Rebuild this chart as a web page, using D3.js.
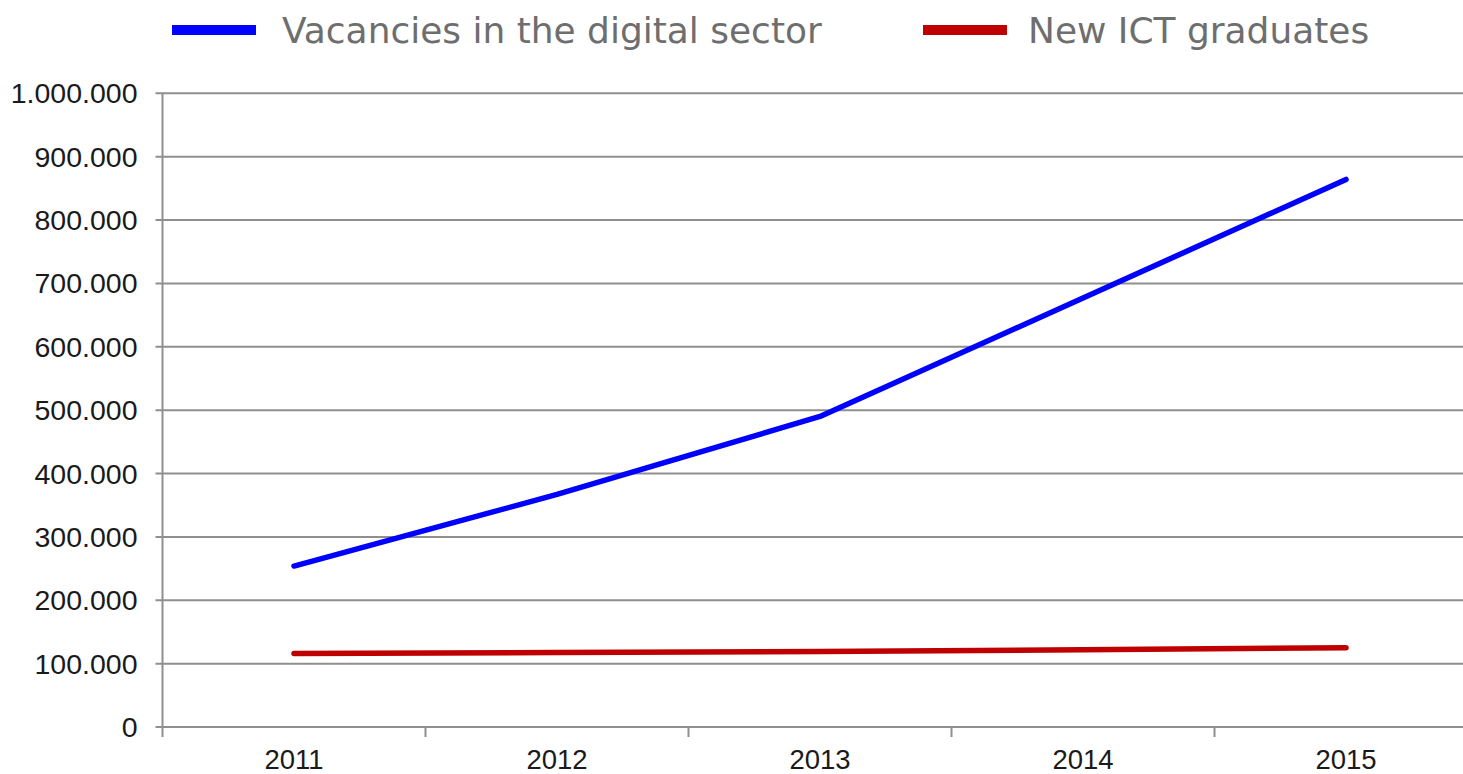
<!DOCTYPE html>
<html>
<head>
<meta charset="utf-8">
<script src="https://cdn.jsdelivr.net/npm/d3@7"></script>
<style>
  html, body { margin: 0; padding: 0; background: #ffffff; overflow: hidden; }
  svg { display: block; }
</style>
</head>
<body>
<svg id="chart" width="1463" height="774"></svg>
<script>
// ---- data ----
const years = ["2011", "2012", "2013", "2014", "2015"];
const vacancies = [254000, 367000, 490000, 677000, 864000];
const ictGraduates = [116000, 117500, 119000, 122000, 125000];
const yTicks = [0, 100000, 200000, 300000, 400000, 500000, 600000, 700000, 800000, 900000, 1000000];
const seriesNames = ["Vacancies in the digital sector", "New ICT graduates"];
const seriesColors = ["#0000ff", "#c00000"];

(function () {
  // ---- layout ----
  const W = 1463;
  const plotLeft = 162.5, bandW = 263, plotTop = 93.3, plotBottom = 727;
  const gridColor = "#8f8f8f";

  const svg = d3.select("#chart");
  const x = d3.scaleBand().domain(years).range([plotLeft, plotLeft + bandW * years.length]).padding(0);
  const y = d3.scaleLinear().domain([0, 1000000]).range([plotBottom, plotTop]);

  const loc = d3.formatLocale({ decimal: ",", thousands: ".", grouping: [3], currency: ["", ""] });
  const fmt = loc.format(",");

  // gridlines
  svg.append("g").selectAll("line").data(yTicks).join("line")
    .attr("x1", plotLeft - 7).attr("x2", W)
    .attr("y1", d => y(d)).attr("y2", d => y(d))
    .attr("stroke", gridColor).attr("stroke-width", 2);

  // y axis line
  svg.append("line")
    .attr("x1", plotLeft).attr("x2", plotLeft)
    .attr("y1", plotTop).attr("y2", plotBottom + 10)
    .attr("stroke", gridColor).attr("stroke-width", 2);

  // y labels
  svg.append("g").selectAll("text").data(yTicks).join("text")
    .attr("x", 137.5).attr("y", d => y(d))
    .attr("text-anchor", "end").attr("dominant-baseline", "central")
    .attr("font-family", "'Liberation Sans', Arial, sans-serif")
    .attr("font-size", 28.5).attr("fill", "#1a1a1a")
    .text(d => fmt(d));

  // x ticks at band boundaries
  const tickXs = years.slice(1).map(d => x(d)).concat([x.range()[1]]);
  svg.append("g").selectAll("line").data(tickXs).join("line")
    .attr("x1", d => d).attr("x2", d => d)
    .attr("y1", plotBottom).attr("y2", plotBottom + 10)
    .attr("stroke", gridColor).attr("stroke-width", 2);

  // x labels
  svg.append("g").selectAll("text").data(years).join("text")
    .attr("x", d => x(d) + x.bandwidth() / 2).attr("y", 769)
    .attr("text-anchor", "middle")
    .attr("font-family", "'Liberation Sans', Arial, sans-serif")
    .attr("font-size", 27.5).attr("fill", "#1a1a1a")
    .text(d => d);

  // lines
  const line = d3.line().x((d, i) => x(years[i]) + x.bandwidth() / 2).y(d => y(d));
  [vacancies, ictGraduates].forEach((vals, k) => {
    svg.append("path").datum(vals)
      .attr("d", line)
      .attr("fill", "none")
      .attr("stroke", seriesColors[k])
      .attr("stroke-width", 5.5)
      .attr("stroke-linecap", "round")
      .attr("stroke-linejoin", "round");
  });

  // legend
  const legendItems = [
    { name: seriesNames[0], color: seriesColors[0], sx: 172, tx: 282 },
    { name: seriesNames[1], color: seriesColors[1], sx: 923, tx: 1028 }
  ];
  const lg = svg.append("g");
  legendItems.forEach(it => {
    lg.append("rect").attr("x", it.sx).attr("y", 25).attr("width", 84).attr("height", 10).attr("fill", it.color);
  });
  const texts = legendItems.map(it => lg.append("text")
    .attr("x", it.tx).attr("y", 42.5)
    .attr("font-family", "'DejaVu Sans', Verdana, sans-serif")
    .attr("font-size", 30).attr("fill", "#6e6e6e")
    .text(it.name));
  const measured = texts[0].node().getComputedTextLength();
  const fs = 30 * 540 / measured;
  texts.forEach(t => t.attr("font-size", fs));
})();
</script>
</body>
</html>
